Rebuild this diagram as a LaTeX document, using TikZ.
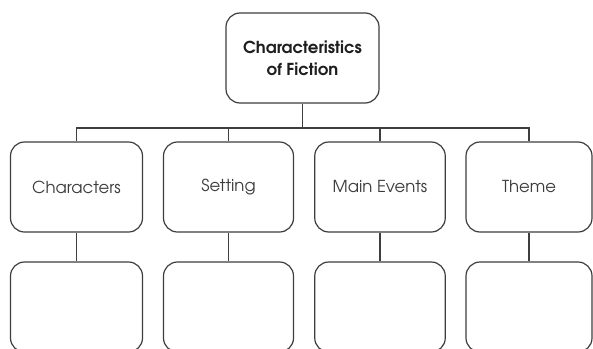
\documentclass[tikz,border=0pt]{standalone}
\usepackage{fontspec}
\setmainfont{TeX Gyre Adventor}
\definecolor{linec}{RGB}{62,62,62}
\definecolor{textc}{RGB}{60,60,60}
\definecolor{titlec}{RGB}{30,30,30}
\tikzset{
  box/.style={draw=linec, line width=1.2pt, rounded corners=14pt, fill=white,
    minimum height=90pt, inner sep=0pt, font=\fontsize{16.5}{22}\selectfont, text=textc},
  conn/.style={draw=linec, line width=1.2pt},
}
\begin{document}
\begin{tikzpicture}[x=1pt, y=-1pt]
\useasboundingbox (0,0) rectangle (593,348);
\clip (0,0) rectangle (593,348);
\fill[white] (0,0) rectangle (593,348);
\node[box, minimum width=153pt, font=\fontsize{16.5}{22}\bfseries\selectfont, text=titlec, align=center] (top) at (302.5,58) {Characteristics\\of Fiction};
\node[box, minimum width=132pt] (m1) at (76.5,187) {Characters};
\node[box, minimum width=130pt] (m2) at (228.5,187) {Setting};
\node[box, minimum width=130.5pt] (m3) at (380,187) {Main Events};
\node[box, minimum width=126pt] (m4) at (529,187) {Theme};
\node[box, minimum width=132pt] (b1) at (76.5,307) {};
\node[box, minimum width=130pt] (b2) at (228.5,307) {};
\node[box, minimum width=130.5pt] (b3) at (380,307) {};
\node[box, minimum width=126pt] (b4) at (529,307) {};
\coordinate (hub) at (302.5,128);
\draw[conn] (top.south) -- (hub);
\foreach \i in {1,2,3,4} {
  \draw[conn] (m\i.north) |- (hub);
  \draw[conn] (m\i.south) -- (b\i.north);
}
\end{tikzpicture}
\end{document}
